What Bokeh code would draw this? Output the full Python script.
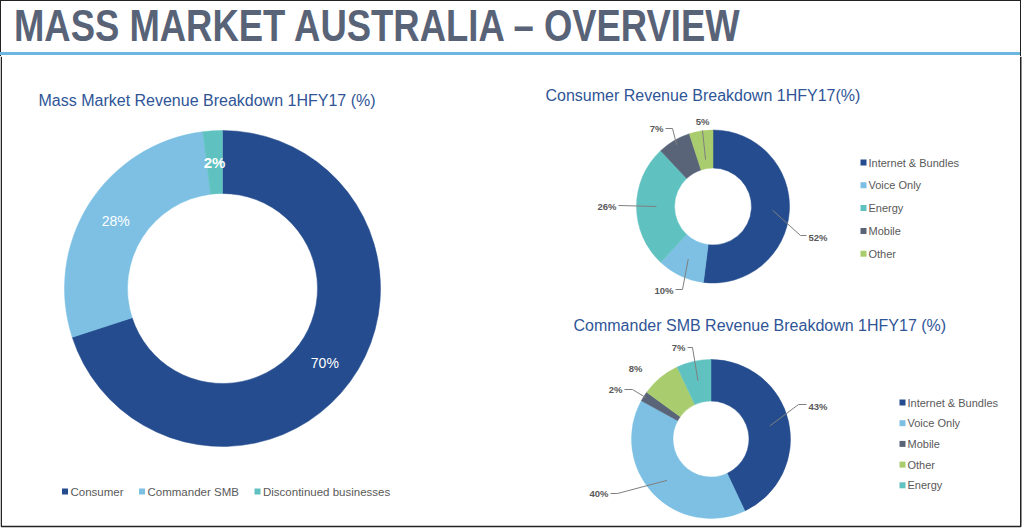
import math
from bokeh.plotting import figure
from bokeh.models import Range1d, ColumnDataSource, Div
from bokeh.layouts import column
from bokeh.core.properties import value
from bokeh.embed import file_html
from bokeh.resources import INLINE

W, H = 1024, 531
HEADER_H = 56

# ---------------- data ----------------
page_title = "MASS MARKET AUSTRALIA – OVERVIEW"

mass_title = "Mass Market Revenue Breakdown 1HFY17 (%)"
mass_categories = ["Consumer", "Commander SMB", "Discontinued businesses"]
mass_values = [70, 28, 2]

consumer_title = "Consumer Revenue Breakdown 1HFY17(%)"
consumer_categories = ["Internet & Bundles", "Voice Only", "Energy", "Mobile", "Other"]
consumer_values = [52, 10, 26, 7, 5]

smb_title = "Commander SMB Revenue Breakdown 1HFY17 (%)"
smb_categories = ["Internet & Bundles", "Voice Only", "Mobile", "Other", "Energy"]
smb_values = [43, 40, 2, 8, 7]

COLORS = {
    "Consumer": "#244c8e",
    "Commander SMB": "#7dc0e4",
    "Discontinued businesses": "#60c2c0",
    "Internet & Bundles": "#244c8e",
    "Voice Only": "#7dc0e4",
    "Energy": "#60c2c0",
    "Mobile": "#5a6479",
    "Other": "#a9cd6e",
}

FONT = "Liberation Sans"
TITLE_BLUE = "#2f5597"
GRAY = "#595959"


def Y(y):
    return H - y


# ---------------- header (condensed title) ----------------
header_html = (
    f'<div style="position:relative;width:{W}px;height:{HEADER_H}px;overflow:hidden;">'
    '<div style="position:absolute;left:0;top:0;width:1021px;height:56px;'
    'border-style:solid;border-color:#222222;border-width:1.5px 1.5px 0 1.5px;box-sizing:border-box;"></div>'
    '<span style="position:absolute;left:14px;top:3px;font-family:\'Liberation Sans\';font-weight:bold;'
    'font-size:45px;line-height:45px;color:#596378;white-space:nowrap;'
    'transform:scaleX(0.81);transform-origin:0 0;display:inline-block;">'
    f'{page_title}</span>'
    '<div style="position:absolute;left:0;top:52px;width:1020px;height:3px;background:#6cb6e0;"></div>'
    '</div>'
)
header = Div(text=header_html, width=W, height=HEADER_H, margin=0)

p = figure(width=W, height=H - HEADER_H, x_range=Range1d(0, W), y_range=Range1d(0, H - HEADER_H),
           output_backend="svg", toolbar_location=None,
           x_axis_location=None, y_axis_location=None, min_border=0, margin=0)
p.grid.visible = False
p.outline_line_color = None
p.background_fill_color = "white"
p.border_fill_color = "white"


def donut(cx, cy, R, r, cats, vals):
    total = float(sum(vals))
    starts, ends, mids, cols = [], [], [], []
    acc = 0.0
    for c, v in zip(cats, vals):
        f0 = acc / total
        acc += v
        f1 = acc / total
        starts.append(math.pi / 2 - 2 * math.pi * f0)
        ends.append(math.pi / 2 - 2 * math.pi * f1)
        mids.append((f0 + f1) / 2)
        cols.append(COLORS[c])
    src = ColumnDataSource(dict(start=starts, end=ends, color=cols, cat=cats, val=vals))
    p.annular_wedge(x=cx, y=Y(cy), inner_radius=r, outer_radius=R,
                    start_angle="start", end_angle="end", direction="clock",
                    fill_color="color", line_color="color", line_width=0.5, source=src)
    return mids


def polar(cx, cy, rad, frac):
    th = math.pi / 2 - 2 * math.pi * frac
    return cx + rad * math.cos(th), Y(cy) + rad * math.sin(th)


# ---------------- left: mass market ----------------
mcx, mcy, mR, mr = 222, 288, 158, 95
p.text(x=[38], y=[Y(100)], text=[mass_title], text_font=value(FONT),
       text_font_size="16px", text_color=TITLE_BLUE, text_baseline="middle")
mids = donut(mcx, mcy, mR, mr, mass_categories, mass_values)
for v, f in zip(mass_values, mids):
    x, y = polar(mcx, mcy, (mR + mr) / 2, f)
    bold = v < 5
    p.text(x=[x], y=[y], text=[f"{v}%"], text_font=value(FONT),
           text_font_size="15px" if bold else "14px",
           text_font_style="bold" if bold else "normal",
           text_color="white", text_align="center", text_baseline="middle")

leg_sq_x = [64.5, 141.5, 257]
for c, sx in zip(mass_categories, leg_sq_x):
    p.scatter(x=[sx], y=[Y(491)], marker="square", size=6, fill_color=COLORS[c], line_color=None)
    p.text(x=[sx + 5.5], y=[Y(491)], text=[c], text_font=value(FONT), text_font_size="11.5px",
           text_color=GRAY, text_baseline="middle")

# ---------------- right top: consumer ----------------
ccx, ccy, cR, cr = 712.5, 206, 76.5, 38.5
p.text(x=[545], y=[Y(95)], text=[consumer_title], text_font=value(FONT),
       text_font_size="16px", text_color=TITLE_BLUE, text_baseline="middle")
cmids = donut(ccx, ccy, cR, cr, consumer_categories, consumer_values)
consumer_layout = {
    "Internet & Bundles": dict(af=0.78, path=[(800, 235), (806, 235)], lab=(808, 237), align="left"),
    "Voice Only": dict(af=0.76, path=[(682, 289), (675, 289)], lab=(673, 290), align="right"),
    "Energy": dict(af=0.74, path=[(618, 205)], lab=(616, 206), align="right"),
    "Mobile": dict(af=0.93, path=[(672, 128), (665, 128)], lab=(663, 128), align="right"),
    "Other": dict(af=0.62, path=[(702, 130)], lab=(702, 121), align="center"),
}
for c, v, f in zip(consumer_categories, consumer_values, cmids):
    L = consumer_layout[c]
    ax, ay = polar(ccx, ccy, cR * L["af"], f)
    xs = [ax] + [pt[0] for pt in L["path"]]
    ys = [ay] + [Y(pt[1]) for pt in L["path"]]
    p.line(x=xs, y=ys, line_color="#7f7f7f", line_width=1)
    p.text(x=[L["lab"][0]], y=[Y(L["lab"][1])], text=[f"{v}%"], text_font=value(FONT),
           text_font_size="9.5px", text_font_style="bold", text_color=GRAY,
           text_align=L["align"], text_baseline="middle")

for i, c in enumerate(consumer_categories):
    yy = 162 + i * 22.8
    p.scatter(x=[863], y=[Y(yy)], marker="square", size=6, fill_color=COLORS[c], line_color=None)
    p.text(x=[868], y=[Y(yy)], text=[c], text_font=value(FONT), text_font_size="11px",
           text_color=GRAY, text_baseline="middle")

# ---------------- right bottom: commander SMB ----------------
scx, scy, sR, sr = 710.5, 438.5, 79.5, 38
p.text(x=[573], y=[Y(325)], text=[smb_title], text_font=value(FONT),
       text_font_size="16px", text_color=TITLE_BLUE, text_baseline="middle")
smids = donut(scx, scy, sR, sr, smb_categories, smb_values)
smb_layout = {
    "Internet & Bundles": dict(af=0.76, path=[(798, 404), (806, 404)], lab=(808, 406), align="left"),
    "Voice Only": dict(af=0.76, path=[(617, 493), (610, 493)], lab=(608, 493), align="right"),
    "Mobile": dict(af=0.97, path=[(632, 389), (624, 389)], lab=(622, 389), align="right"),
    "Other": dict(af=None, path=[], lab=(635, 368), align="center"),
    "Energy": dict(af=0.75, path=[(692, 347), (687, 347)], lab=(685, 347), align="right"),
}
for c, v, f in zip(smb_categories, smb_values, smids):
    L = smb_layout[c]
    if L["af"] is not None:
        ax, ay = polar(scx, scy, sR * L["af"], f)
        xs = [ax] + [pt[0] for pt in L["path"]]
        ys = [ay] + [Y(pt[1]) for pt in L["path"]]
        p.line(x=xs, y=ys, line_color="#7f7f7f", line_width=1)
    p.text(x=[L["lab"][0]], y=[Y(L["lab"][1])], text=[f"{v}%"], text_font=value(FONT),
           text_font_size="9.5px", text_font_style="bold", text_color=GRAY,
           text_align=L["align"], text_baseline="middle")

for i, c in enumerate(smb_categories):
    yy = 402 + i * 20.7
    p.scatter(x=[902], y=[Y(yy)], marker="square", size=6, fill_color=COLORS[c], line_color=None)
    p.text(x=[907], y=[Y(yy)], text=[c], text_font=value(FONT), text_font_size="11px",
           text_color=GRAY, text_baseline="middle")

# ---------------- frame (below the header) ----------------
p.line(x=[0.75, 0.75, 1020.25, 1020.25], y=[Y(HEADER_H), Y(526), Y(526), Y(HEADER_H)],
       line_color="#222222", line_width=1.5)

layout = column(header, p, spacing=0, margin=0)
open("out.html", "w").write(file_html(layout, INLINE))
